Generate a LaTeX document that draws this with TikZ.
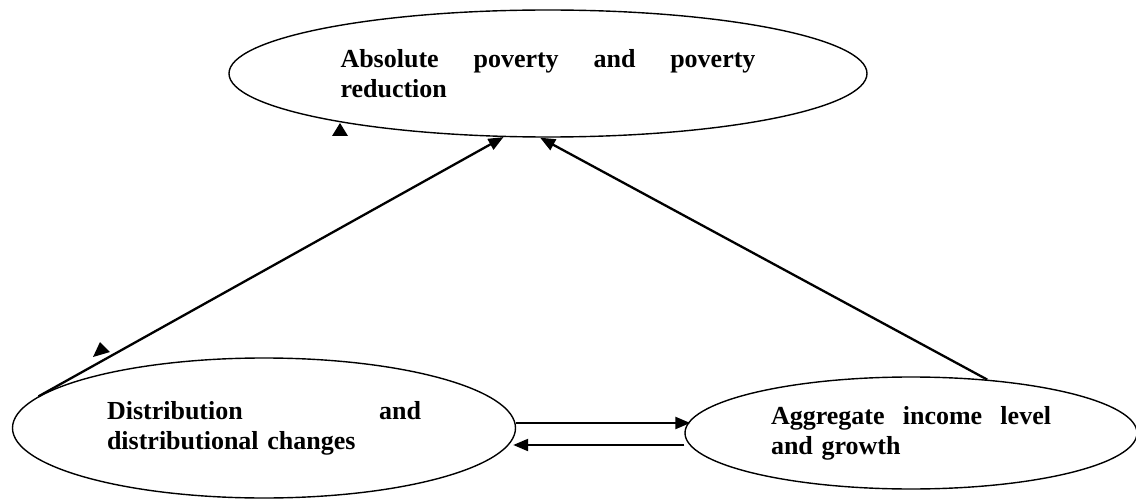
\documentclass[tikz,border=0pt]{standalone}
\usepackage{fontspec}
\setmainfont{Liberation Serif}
\usepackage{tikz}
\usetikzlibrary{shapes.geometric, arrows.meta, calc}

\newcommand{\spreadline}[2]{\hbox to #1{#2}}

\tikzset{
  bubble/.style={ellipse, draw, line width=1.4pt, inner sep=0pt, align=left,
    font=\fontsize{26}{30}\selectfont\bfseries},
  link/.style={-{Triangle[length=15pt,width=12pt]}, line width=2.3pt}
}

\begin{document}
\begin{tikzpicture}[x=1pt, y=-1pt]
\useasboundingbox (0,0) rectangle (1136,500);

% the three ellipses
\node[bubble, minimum width=638pt, minimum height=127pt, text width=415pt] (pov) at (548,73.5)
  {\spreadline{415pt}{Absolute\hfill poverty\hfill and\hfill poverty}\\reduction};
\node[bubble, minimum width=503pt, minimum height=140pt, text width=314pt] (dist) at (264,428)
  {\spreadline{314pt}{Distribution\hfill and}\\distributional changes};
\node[bubble, minimum width=452pt, minimum height=112pt, text width=280pt] (agg) at (911,433)
  {\spreadline{280pt}{Aggregate\hfill income\hfill level}\\and growth};

% links to poverty
\draw[link] (dist.172) -- (pov.235);
\draw[link] (agg.35) -- (pov.263);

% links between distribution and growth
\draw[link] ($(dist.east)+(0,-5)$) -- ($(agg.west)+(6,-10)$);
\draw[link] ($(agg.west)+(0,12)$) -- ($(dist.east)+(-3,17)$);

% stray arrow heads
\fill (340,123) -- (348,136) -- (332,136) -- cycle;
\fill (100,342) -- (110,352) -- (93,357) -- cycle;
\end{tikzpicture}
\end{document}
